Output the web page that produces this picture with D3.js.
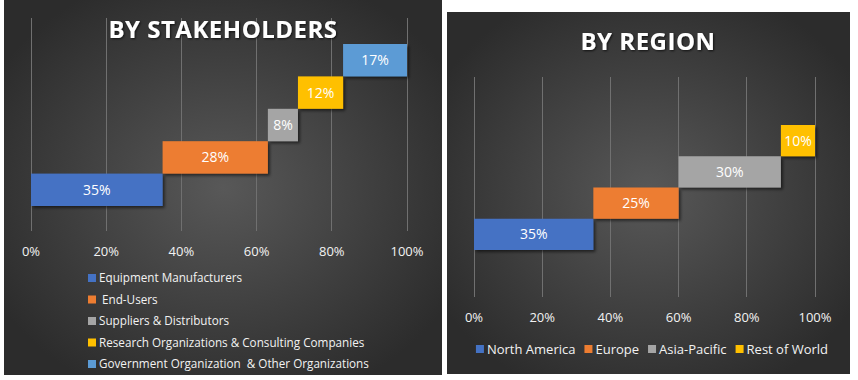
<!DOCTYPE html>
<html>
<head>
<meta charset="utf-8">
<script src="https://cdn.jsdelivr.net/npm/d3@7"></script>
<style>
  html, body { margin: 0; padding: 0; background: #fff; }
  svg { display: block; font-family: 'Open Sans', 'Noto Sans', sans-serif; }
</style>
</head>
<body>
<div id="chart"></div>
<script>
// data
const stakeCats = ['Equipment Manufacturers', ' End-Users', 'Suppliers & Distributors',
  'Research Organizations & Consulting Companies', 'Government Organization  & Other Organizations'];
const stakeVals = [35, 28, 8, 12, 17];
const regionCats = ['North America', 'Europe', 'Asia-Pacific', 'Rest of World'];
const regionVals = [35, 25, 30, 10];
const xTicks = [0, 20, 40, 60, 80, 100];
const colors = ['#4472C4', '#ED7D31', '#A5A5A5', '#FFC000', '#5B9BD5'];

const width = 858;
const height = 380;

const svg = d3.select('#chart')
  .append('svg')
  .attr('width', width)
  .attr('height', height);

const defs = svg.append('defs');

const grad = defs.append('radialGradient')
  .attr('id', 'bg')
  .attr('cx', '50%').attr('cy', '50%').attr('r', '60%');
grad.append('stop').attr('offset', '0%').attr('stop-color', '#585858');
grad.append('stop').attr('offset', '100%').attr('stop-color', '#2c2c2c');

const shadow = defs.append('filter')
  .attr('id', 'shadow')
  .attr('x', '-20%').attr('y', '-20%').attr('width', '150%').attr('height', '160%');
shadow.append('feDropShadow')
  .attr('dx', 2).attr('dy', 2).attr('stdDeviation', 1.8)
  .attr('flood-color', '#000').attr('flood-opacity', 0.55);

const titleShadow = defs.append('filter').attr('id', 'tshadow');
titleShadow.append('feDropShadow')
  .attr('dx', 1).attr('dy', 1).attr('stdDeviation', 1)
  .attr('flood-color', '#000').attr('flood-opacity', 0.7);

// draws one waterfall style panel
function drawPanel(opts) {
  const g = svg.append('g');

  g.append('rect')
    .attr('x', opts.box[0]).attr('y', opts.box[1])
    .attr('width', opts.box[2]).attr('height', opts.box[3])
    .attr('fill', 'url(#bg)');

  const x = d3.scaleLinear().domain([0, 100]).range(opts.xRange);
  const y = d3.scaleBand().domain(opts.cats).range(opts.yRange).padding(0);

  const starts = [0, ...d3.cumsum(opts.vals)].slice(0, opts.vals.length);

  g.append('g')
    .selectAll('line')
    .data(xTicks)
    .enter()
    .append('line')
    .attr('x1', (d) => x(d)).attr('x2', (d) => x(d))
    .attr('y1', opts.gridY[0]).attr('y2', opts.gridY[1])
    .attr('stroke', '#707070')
    .attr('stroke-width', 1)
    .attr('shape-rendering', 'crispEdges');

  g.append('g')
    .selectAll('text')
    .data(xTicks)
    .enter()
    .append('text')
    .attr('x', (d) => x(d))
    .attr('y', opts.tickY)
    .attr('dy', '0.35em')
    .attr('text-anchor', 'middle')
    .attr('fill', '#f2f2f2')
    .style('font-size', '13px')
    .text((d) => `${d}%`);

  const bars = g.append('g')
    .selectAll('g')
    .data(opts.vals)
    .enter()
    .append('g');

  bars.append('rect')
    .attr('x', (d, i) => x(starts[i]))
    .attr('y', (d, i) => y(opts.cats[i]))
    .attr('width', (d, i) => x(starts[i] + d) - x(starts[i]))
    .attr('height', y.bandwidth())
    .attr('fill', (d, i) => colors[i])
    .attr('filter', 'url(#shadow)');

  bars.append('text')
    .attr('x', (d, i) => x(starts[i] + d / 2))
    .attr('y', (d, i) => y(opts.cats[i]) + y.bandwidth() / 2)
    .attr('dy', '0.35em')
    .attr('text-anchor', 'middle')
    .attr('fill', '#fff')
    .style('font-size', '14px')
    .text((d) => `${d}%`);

  g.append('text')
    .attr('x', opts.titleX)
    .attr('y', opts.titleY)
    .attr('text-anchor', 'middle')
    .attr('fill', '#fff')
    .attr('filter', 'url(#tshadow)')
    .style('font-size', '24px')
    .style('font-weight', 'bold')
    .style('letter-spacing', '0.5px')
    .text(opts.title);

  return g;
}

const left = drawPanel({
  box: [4, 0, 438, 375],
  cats: stakeCats,
  vals: stakeVals,
  xRange: [31, 407],
  yRange: [206, 44],
  gridY: [18, 231],
  tickY: 251,
  title: 'BY STAKEHOLDERS',
  titleX: 223,
  titleY: 38,
});

const right = drawPanel({
  box: [447, 12, 403, 362],
  cats: regionCats,
  vals: regionVals,
  xRange: [474, 815],
  yRange: [250, 125],
  gridY: [77, 297],
  tickY: 317,
  title: 'BY REGION',
  titleX: 648,
  titleY: 50,
});

// vertical legend for stakeholders
const leg1 = left.append('g')
  .selectAll('g')
  .data(stakeCats)
  .enter()
  .append('g')
  .attr('transform', (d, i) => `translate(88,${278 + i * 21.5})`);

leg1.append('rect')
  .attr('x', 0).attr('y', -4)
  .attr('width', 8).attr('height', 8)
  .attr('fill', (d, i) => colors[i]);

leg1.append('text')
  .attr('x', 11)
  .attr('dy', '0.35em')
  .attr('fill', '#f2f2f2')
  .style('font-size', '11.7px')
  .style('white-space', 'pre')
  .text((d) => d);

// horizontal legend for regions
const leg2 = right.append('g');
let cx = 0;
regionCats.forEach((name, i) => {
  const item = leg2.append('g').attr('transform', `translate(${cx},0)`);
  item.append('rect')
    .attr('x', 0).attr('y', -4)
    .attr('width', 8).attr('height', 8)
    .attr('fill', colors[i]);
  const t = item.append('text')
    .attr('x', 11)
    .attr('dy', '0.35em')
    .attr('fill', '#f2f2f2')
    .style('font-size', '13px')
    .text(name);
  cx += 11 + t.node().getComputedTextLength() + 9;
});
const legW = cx - 9;
leg2.attr('transform', `translate(${652 - legW / 2},349)`);
</script>
</body>
</html>
